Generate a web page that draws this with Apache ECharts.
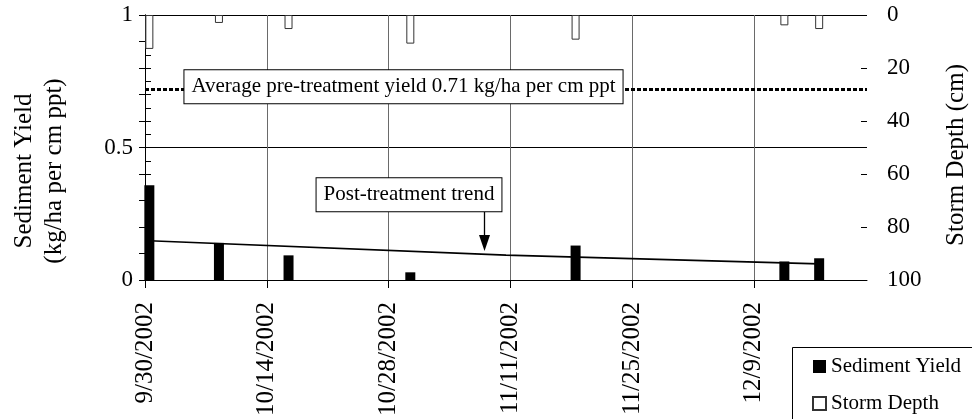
<!DOCTYPE html>
<html>
<head>
<meta charset="utf-8">
<script src="https://cdn.jsdelivr.net/npm/echarts@6/dist/echarts.min.js"></script>
<style>
	html,body{margin:0;padding:0;background:#fff;}
	#chart{width:972px;height:419px;}
</style>
</head>
<body>
<div id="chart"></div>
<script>
//数据
var axisStart = '9/30/2002';
var axisEnd = '12/22/2002';
var tickDates = ['9/30/2002', '10/14/2002', '10/28/2002', '11/11/2002', '11/25/2002', '12/9/2002'];
var eventDates = ['9/30/2002', '10/8/2002', '10/16/2002', '10/30/2002', '11/18/2002', '12/12/2002', '12/16/2002'];
var sedimentYield = [0.358, 0.14, 0.093, 0.029, 0.13, 0.07, 0.082];
var stormDepth = [12.8, 3.0, 5.3, 10.8, 9.3, 3.9, 5.3];
var trendDates = ['9/30/2002', '11/10/2002', '12/16/2002'];
var trendValues = [0.148, 0.094, 0.061];
var avgPreTreatment = 0.72;

var FONT = '"Liberation Serif", "Times New Roman", serif';

//日期 -> 距起始日的天数
function dayOf(s){
	var p = s.split('/').map(Number);
	var a = axisStart.split('/').map(Number);
	return Math.round((Date.UTC(p[2], p[0] - 1, p[1]) - Date.UTC(a[2], a[0] - 1, a[1])) / 86400000);
}
var tickDays = tickDates.map(dayOf);
function dayLabel(v){
	var i = tickDays.indexOf(Math.round(v));
	return i < 0 ? '' : tickDates[i];
}
//柱子放在当天格子的中间
function pairs(dates, vals){
	return dates.map(function(d, i){ return [dayOf(d) + 0.5, vals[i]]; });
}

var xBase = {
	type: 'value', min: 0, max: dayOf(axisEnd), gridIndex: 0
};
var leftBase = { type: 'value', min: 0, max: 1, interval: 0.5, position: 'left' };
var rightBase = { type: 'value', min: 0, max: 100, interval: 20, position: 'right', inverse: true };

var option = {
	animation: false,
	backgroundColor: '#fff',
	grid: { left: 145, top: 15, width: 722, height: 265 },
	xAxis: [
		Object.assign({}, xBase, {
			position: 'bottom',
			axisLine: { lineStyle: { color: '#000', width: 1 } },
			axisTick: { show: true, length: 8, lineStyle: { color: '#000' }, customValues: tickDays },
			axisLabel: {
				customValues: tickDays, rotate: 90, margin: 22, color: '#000',
				fontFamily: FONT, fontSize: 25, formatter: dayLabel
			},
			splitLine: { show: true, lineStyle: { color: '#6a6a6a', width: 1 } }
		}),
		Object.assign({}, xBase, { show: false })
	],
	yAxis: [
		Object.assign({}, leftBase, {
			axisLine: { show: true, lineStyle: { color: '#000' } },
			axisTick: { show: true, length: 6, lineStyle: { color: '#000' } },
			minorTick: { show: true, splitNumber: 5, length: 6, lineStyle: { color: '#000' } },
			axisLabel: { color: '#000', fontFamily: FONT, fontSize: 23, margin: 12,
				formatter: function(v){ return String(v); } },
			splitLine: { show: true, lineStyle: { color: '#000', width: 1 } }
		}),
		Object.assign({}, rightBase, {
			axisLine: { show: true, lineStyle: { color: '#000' } },
			axisTick: { show: true, length: 6, lineStyle: { color: '#000' } },
			minorTick: { show: true, splitNumber: 4, length: 6, lineStyle: { color: '#000' } },
			axisLabel: { color: '#000', fontFamily: FONT, fontSize: 23, margin: 20 },
			splitLine: { show: false }
		}),
		//内侧刻度，让主刻度穿过轴线
		Object.assign({}, leftBase, {
			axisLine: { show: false },
			axisTick: { show: true, inside: true, length: 6, lineStyle: { color: '#000' } },
			axisLabel: { show: false }, splitLine: { show: false }
		}),
		Object.assign({}, rightBase, {
			axisLine: { show: false },
			axisTick: { show: true, inside: true, length: 6, lineStyle: { color: '#000' } },
			axisLabel: { show: false }, splitLine: { show: false }
		})
	],
	legend: {
		data: ['Sediment Yield', 'Storm Depth'],
		orient: 'vertical', left: 792, top: 347,
		padding: [9, 10, 0, 20], itemGap: 16,
		itemWidth: 13, itemHeight: 13, icon: 'rect',
		selectedMode: false, z: 110,
		textStyle: { color: '#000', fontFamily: FONT, fontSize: 21 }
	},
	series: [
		{
			name: 'Storm Depth', type: 'bar', xAxisIndex: 1, yAxisIndex: 1,
			barWidth: 8, data: pairs(eventDates, stormDepth),
			itemStyle: { color: '#fff', borderColor: '#333', borderWidth: 1 }
		},
		{
			name: 'Sediment Yield', type: 'bar', xAxisIndex: 0, yAxisIndex: 0,
			barWidth: 10, data: pairs(eventDates, sedimentYield),
			itemStyle: { color: '#000' },
			markLine: {
				silent: true, symbol: ['none', 'none'], label: { show: false },
				lineStyle: { color: '#000', type: [4, 2], width: 3 },
				data: [{ yAxis: avgPreTreatment }]
			}
		},
		{
			name: 'Trend', type: 'line', xAxisIndex: 0, yAxisIndex: 0,
			data: pairs(trendDates, trendValues), showSymbol: false, symbol: 'none',
			lineStyle: { color: '#000', width: 1.6 }, z: 3
		}
	],
	graphic: [
		//图例外框
		{ type: 'rect', z: 50, shape: { x: 792.5, y: 347.5, width: 200, height: 100 },
			style: { fill: '#fff', stroke: '#000', lineWidth: 1 } },
		{ type: 'text', x: 403.5, y: 86.7, z: 100, style: {
			text: 'Average pre-treatment yield 0.71 kg/ha per cm ppt', font: '21px ' + FONT, fill: '#000',
			align: 'center', verticalAlign: 'middle', backgroundColor: '#fff',
			borderColor: '#000', borderWidth: 1, padding: [6, 7]
		} },
		{ type: 'text', x: 409, y: 194.7, z: 100, style: {
			text: 'Post-treatment trend', font: '21px ' + FONT, fill: '#000',
			align: 'center', verticalAlign: 'middle', backgroundColor: '#fff',
			borderColor: '#000', borderWidth: 1, padding: [6, 7]
		} },
		{ type: 'line', z: 100, shape: { x1: 484.5, y1: 212, x2: 484.5, y2: 237 },
			style: { stroke: '#000', lineWidth: 1.3 } },
		{ type: 'polygon', z: 100, shape: { points: [[479, 235], [490, 235], [484.5, 251]] },
			style: { fill: '#000' } },
		{ type: 'text', x: 24, y: 171, rotation: Math.PI / 2, z: 100, style: {
			text: 'Sediment Yield', font: '25px ' + FONT, fill: '#000', align: 'center', verticalAlign: 'middle'
		} },
		{ type: 'text', x: 54, y: 171, rotation: Math.PI / 2, z: 100, style: {
			text: '(kg/ha per cm ppt)', font: '25px ' + FONT, fill: '#000', align: 'center', verticalAlign: 'middle'
		} },
		{ type: 'text', x: 956, y: 155, rotation: Math.PI / 2, z: 100, style: {
			text: 'Storm Depth (cm)', font: '25px ' + FONT, fill: '#000', align: 'center', verticalAlign: 'middle'
		} }
	]
};

var chart = echarts.init(document.getElementById('chart'), null, { renderer: 'canvas' });
chart.setOption(option);
</script>
</body>
</html>
